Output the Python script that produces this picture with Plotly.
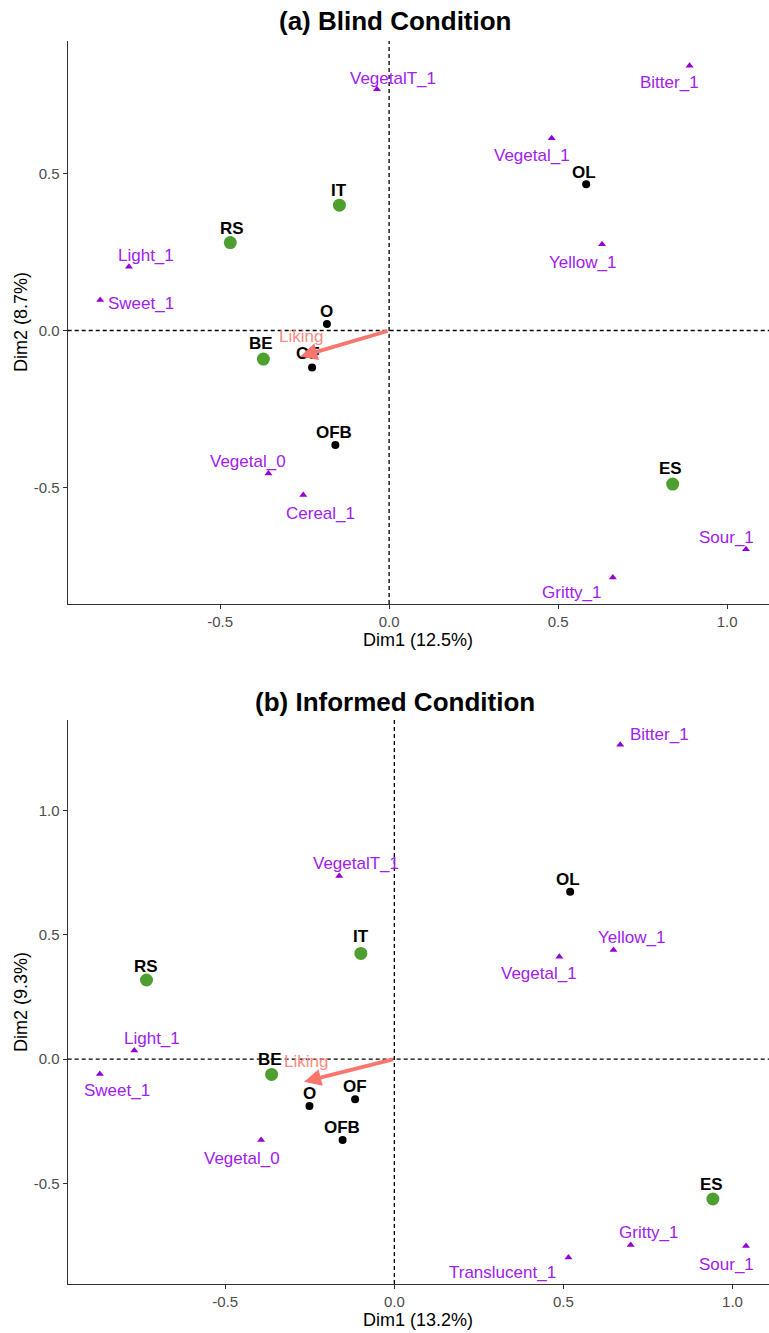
import plotly.graph_objects as go

# ---------------- DATA ----------------
blind_green_names = ["IT", "RS", "BE", "ES"]
blind_green_x = [-0.147, -0.470, -0.372, 0.839]
blind_green_y = [0.399, 0.280, -0.091, -0.489]
blind_black_names = ["OL", "O", "OF", "OFB"]
blind_black_x = [0.583, -0.184, -0.228, -0.159]
blind_black_y = [0.466, 0.021, -0.118, -0.365]
blind_attr_names = ["VegetalT_1", "Bitter_1", "Vegetal_1", "Yellow_1", "Light_1",
                    "Sweet_1", "Vegetal_0", "Cereal_1", "Sour_1", "Gritty_1"]
blind_attr_x = [-0.036, 0.889, 0.481, 0.630, -0.770, -0.855, -0.357, -0.254, 1.056, 0.662]
blind_attr_y = [0.768, 0.843, 0.612, 0.275, 0.203, 0.097, -0.455, -0.524, -0.697, -0.787]
blind_liking_x = -0.263
blind_liking_y = -0.083

informed_green_names = ["IT", "RS", "BE", "ES"]
informed_green_x = [-0.099, -0.733, -0.363, 0.942]
informed_green_y = [0.425, 0.318, -0.062, -0.563]
informed_black_names = ["OL", "O", "OF", "OFB"]
informed_black_x = [0.520, -0.251, -0.116, -0.153]
informed_black_y = [0.673, -0.189, -0.162, -0.326]
informed_attr_names = ["Bitter_1", "VegetalT_1", "Yellow_1", "Vegetal_1", "Light_1",
                       "Sweet_1", "Vegetal_0", "Gritty_1", "Sour_1", "Translucent_1"]
informed_attr_x = [0.668, -0.163, 0.648, 0.488, -0.769, -0.871, -0.394, 0.699, 1.040, 0.515]
informed_attr_y = [1.264, 0.736, 0.439, 0.412, 0.034, -0.060, -0.326, -0.748, -0.752, -0.798]
informed_liking_x = -0.267
informed_liking_y = -0.091

blind_title = "(a) Blind Condition"
informed_title = "(b) Informed Condition"
blind_xlab, blind_ylab = "Dim1 (12.5%)", "Dim2 (8.7%)"
informed_xlab, informed_ylab = "Dim1 (13.2%)", "Dim2 (9.3%)"
blind_xticks = [-0.5, 0.0, 0.5, 1.0]
blind_yticks = [-0.5, 0.0, 0.5]
informed_xticks = [-0.5, 0.0, 0.5, 1.0]
informed_yticks = [-0.5, 0.0, 0.5, 1.0]

# ---------------- STYLE (label offsets in px: dx right, dy down) ----------------
blind_offsets = {
    "VegetalT_1": (16, -11), "Bitter_1": (-20, 17), "Vegetal_1": (-20, 17),
    "Yellow_1": (-20, 18), "Light_1": (17, -11), "Sweet_1": (41, 3),
    "Vegetal_0": (-20, -12), "Cereal_1": (17, 18), "Sour_1": (-20, -12),
    "Gritty_1": (-41, 15),
    "IT": (0, -15), "RS": (2, -14), "BE": (-2, -16), "ES": (-2, -16),
    "OL": (-2, -12), "O": (0, -12), "OF": (-4, -14), "OFB": (-1, -13),
    "Liking": (1, -20),
}
informed_offsets = {
    "Bitter_1": (39, -10), "VegetalT_1": (17, -13), "Yellow_1": (18, -12),
    "Vegetal_1": (-20, 17), "Light_1": (18, -12), "Sweet_1": (17, 17),
    "Vegetal_0": (-19, 18), "Gritty_1": (18, -12), "Sour_1": (-20, 19),
    "Translucent_1": (-66, 15),
    "IT": (0, -17), "RS": (0, -14), "BE": (-2, -15), "ES": (-1, -14),
    "OL": (-2, -12), "O": (0, -13), "OF": (0, -13), "OFB": (-1, -13),
    "Liking": (2, -20),
}

W, H = 769, 1333
FONT = "Liberation Sans, Arial, sans-serif"
PURPLE_MK = "#9400D3"
PURPLE_TX = "#A020F0"
GREEN = "#4DA02F"
SALMON = "#F8766D"

fig = go.Figure()
annotations = []
shapes = []


def panel(xa, ya, gx, gy, gn, bx, by, bn, ax_, ay_, an, lx, ly, offs):
    xref = xa
    yref = ya
    fig.add_trace(go.Scatter(x=ax_, y=ay_, mode="markers", xaxis=xa, yaxis=ya,
                             marker=dict(symbol="triangle-up", size=7, color=PURPLE_MK),
                             showlegend=False, hoverinfo="text", text=an))
    fig.add_trace(go.Scatter(x=bx, y=by, mode="markers", xaxis=xa, yaxis=ya,
                             marker=dict(size=8, color="black"),
                             showlegend=False, hoverinfo="text", text=bn))
    fig.add_trace(go.Scatter(x=gx, y=gy, mode="markers", xaxis=xa, yaxis=ya,
                             marker=dict(size=13, color=GREEN),
                             showlegend=False, hoverinfo="text", text=gn))
    for n, x, y in zip(an, ax_, ay_):
        dx, dy = offs[n]
        annotations.append(dict(x=x, y=y, xref=xref, yref=yref, text=n, showarrow=False,
                                xshift=dx, yshift=-dy,
                                font=dict(family=FONT, size=17, color=PURPLE_TX)))
    for n, x, y in list(zip(bn, bx, by)) + list(zip(gn, gx, gy)):
        dx, dy = offs[n]
        annotations.append(dict(x=x, y=y, xref=xref, yref=yref, text="<b>%s</b>" % n,
                                showarrow=False, xshift=dx, yshift=-dy,
                                font=dict(family=FONT, size=17, color="black")))
    # liking arrow
    annotations.append(dict(x=lx, y=ly, ax=0, ay=0, xref=xref, yref=yref,
                            axref=xref, ayref=yref, showarrow=True, arrowhead=2,
                            arrowsize=0.9, arrowwidth=3.8, arrowcolor=SALMON, text=""))
    dx, dy = offs["Liking"]
    annotations.append(dict(x=lx, y=ly, xref=xref, yref=yref, text="Liking",
                            showarrow=False, xshift=dx, yshift=-dy,
                            font=dict(family=FONT, size=17, color="#FA8C84")))
    # dashed zero lines
    shapes.append(dict(type="line", xref=xa, yref=ya + " domain", x0=0, x1=0, y0=0, y1=1,
                       line=dict(color="black", width=1.3, dash="4px,3px")))
    shapes.append(dict(type="line", xref=xa + " domain", yref=ya, x0=0, x1=1, y0=0, y1=0,
                       line=dict(color="black", width=1.3, dash="4px,3px")))


panel("x", "y", blind_green_x, blind_green_y, blind_green_names,
      blind_black_x, blind_black_y, blind_black_names,
      blind_attr_x, blind_attr_y, blind_attr_names,
      blind_liking_x, blind_liking_y, blind_offsets)
panel("x2", "y2", informed_green_x, informed_green_y, informed_green_names,
      informed_black_x, informed_black_y, informed_black_names,
      informed_attr_x, informed_attr_y, informed_attr_names,
      informed_liking_x, informed_liking_y, informed_offsets)

left = 67.7 / W
top_dom = [1 - 604 / H, 1 - 41 / H]
bot_dom = [1 - 1284 / H, 1 - 720 / H]

axis_common = dict(showgrid=False, zeroline=False, showline=True, linecolor="#333333",
                   linewidth=1.4, ticks="outside", ticklen=4, tickcolor="#333333",
                   tickwidth=1.2, tickfont=dict(family=FONT, size=15, color="#4D4D4D"))

fig.update_layout(
    width=W, height=H, margin=dict(l=0, r=0, t=0, b=0),
    plot_bgcolor="white", paper_bgcolor="white", showlegend=False,
    xaxis=dict(domain=[left, 1], range=[-0.951, 1.124], anchor="y",
               tickvals=blind_xticks, ticktext=["%.1f" % v for v in blind_xticks], **axis_common),
    yaxis=dict(domain=top_dom, range=[-0.871, 0.922], anchor="x",
               tickvals=blind_yticks, ticktext=["%.1f" % v for v in blind_yticks], **axis_common),
    xaxis2=dict(domain=[left, 1], range=[-0.966, 1.108], anchor="y2",
                tickvals=informed_xticks, ticktext=["%.1f" % v for v in informed_xticks], **axis_common),
    yaxis2=dict(domain=bot_dom, range=[-0.905, 1.364], anchor="x2",
                tickvals=informed_yticks, ticktext=["%.1f" % v for v in informed_yticks], **axis_common),
)

# titles and axis labels
cx = (67.7 + W) / 2 / W
for txt, ypx in [(blind_title, 21), (informed_title, 702)]:
    annotations.append(dict(x=395 / W, y=1 - ypx / H, xref="paper", yref="paper", text="<b>%s</b>" % txt,
                            showarrow=False, font=dict(family=FONT, size=26, color="black"),
                            xanchor="center", yanchor="middle"))
for txt, ypx in [(blind_xlab, 640), (informed_xlab, 1320)]:
    annotations.append(dict(x=cx, y=1 - ypx / H, xref="paper", yref="paper", text=txt,
                            showarrow=False, font=dict(family=FONT, size=18, color="black"),
                            xanchor="center", yanchor="middle"))
for txt, ypx in [(blind_ylab, 322), (informed_ylab, 1002)]:
    annotations.append(dict(x=21 / W, y=1 - ypx / H, xref="paper", yref="paper", text=txt,
                            showarrow=False, textangle=-90,
                            font=dict(family=FONT, size=18, color="black"),
                            xanchor="center", yanchor="middle"))

fig.update_layout(annotations=annotations, shapes=shapes)
fig.write_html("out.html")
